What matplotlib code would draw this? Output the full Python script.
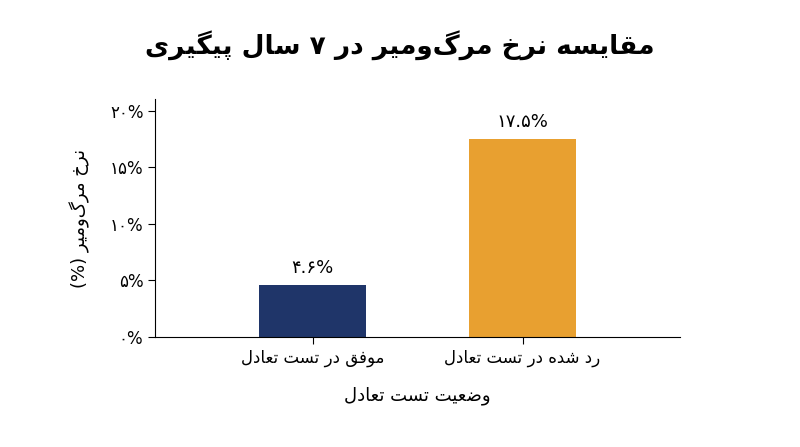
import matplotlib
matplotlib.use("Agg")
import matplotlib.pyplot as plt

categories = ["موفق در تست تعادل", "رد شده در تست تعادل"]
values = [4.6, 17.5]
value_labels = ["۴.۶%", "۱۷.۵%"]
yticks = [0, 5, 10, 15, 20]
ytick_labels = ["۰%", "۵%", "۱۰%", "۱۵%", "۲۰%"]
colors = ["#1f3569", "#e8a030"]
title = "مقایسه نرخ مرگ\u200cومیر در ۷ سال پیگیری"
xlabel = "وضعیت تست تعادل"
ylabel = "نرخ مرگ\u200cومیر (%)"

# presentation forms: (isolated base, dual-joining?)
FORMS = {
    "ا": (0xFE8D, False), "ب": (0xFE8F, True), "ت": (0xFE95, True),
    "خ": (0xFEA5, True), "د": (0xFEA9, False), "ر": (0xFEAD, False),
    "ز": (0xFEAF, False), "س": (0xFEB1, True), "ش": (0xFEB5, True),
    "ض": (0xFEBD, True), "ع": (0xFEC9, True), "ف": (0xFED1, True),
    "ق": (0xFED5, True), "ل": (0xFEDD, True), "م": (0xFEE1, True),
    "ن": (0xFEE5, True), "ه": (0xFEE9, True), "و": (0xFEED, False),
    "ی": (0xFBFC, True), "گ": (0xFB92, True), "پ": (0xFB56, True),
}
MIRROR = {"(": ")", ")": "("}


def shape(text):
    out = []
    for i, ch in enumerate(text):
        if ch not in FORMS:
            if ch != "\u200c":
                out.append(MIRROR.get(ch, ch))
            continue
        base, dual = FORMS[ch]
        prev = text[i - 1] if i > 0 else ""
        nxt = text[i + 1] if i + 1 < len(text) else ""
        join_prev = prev in FORMS and FORMS[prev][1]
        join_next = dual and nxt in FORMS
        if join_prev and join_next:
            code = base + 3
        elif join_prev:
            code = base + 1
        elif join_next:
            code = base + 2
        else:
            code = base
        out.append(chr(code))
    # reverse to visual order, keeping digit runs left-to-right
    runs, cur = [], ""
    digits = set("۰۱۲۳۴۵۶۷۸۹.")
    for ch in out:
        if ch in digits:
            cur += ch
        else:
            if cur:
                runs.append(cur)
                cur = ""
            runs.append(ch)
    if cur:
        runs.append(cur)
    return "".join(reversed(runs))


plt.rcParams["font.family"] = ["DejaVu Sans", "Noto Sans"]

fig = plt.figure(figsize=(8, 4.47), dpi=100)
ax = fig.add_axes([0.194, 0.246, 0.656, 0.532])
x = list(range(len(categories)))
bars = ax.bar(x, values, width=0.51, color=colors)
for bar, lab in zip(bars, value_labels):
    ax.annotate(lab, xy=(bar.get_x() + bar.get_width() / 2, bar.get_height()),
                xytext=(0, 6), textcoords="offset points",
                ha="center", va="bottom", fontsize=13)

ax.set_xlim(-0.75, 1.75)
ax.set_ylim(0, 21)
ax.set_xticks(x)
ax.set_xticklabels([shape(c) for c in categories], fontsize=12)
ax.set_yticks(yticks)
ax.set_yticklabels(ytick_labels, fontsize=12)
ax.spines["top"].set_visible(False)
ax.spines["right"].set_visible(False)
ax.tick_params(length=5)
ax.set_xlabel(shape(xlabel), fontsize=13, labelpad=14)
ax.set_ylabel(shape(ylabel), fontsize=13, labelpad=14)
fig.suptitle(shape(title), fontsize=19, fontweight="bold", y=0.93)

fig.savefig("out.png", dpi=100)
